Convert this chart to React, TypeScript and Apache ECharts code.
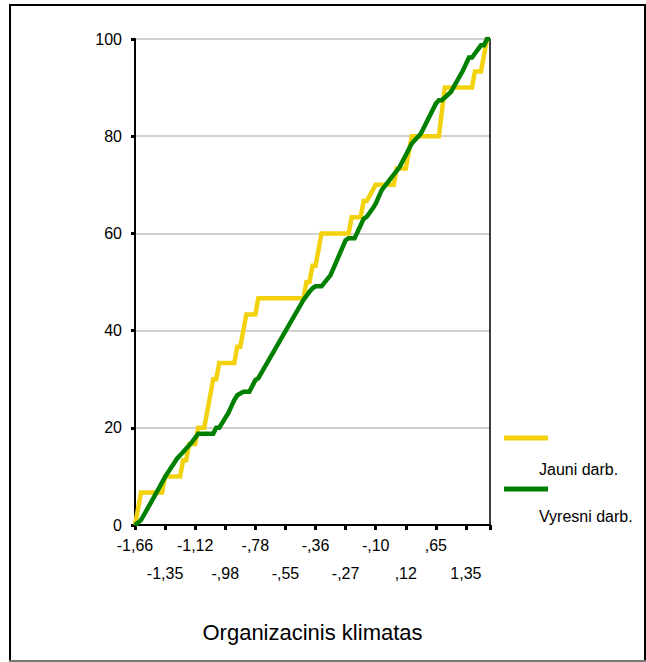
import React, { useEffect, useRef } from 'react';
import * as echarts from 'echarts';

// Tick labels shown on the category axis (every 10th category)
const tickLabels = ['-1,66', '-1,35', '-1,12', '-,98', '-,78', '-,55', '-,36', '-,27', '-,10', ',12', ',65', '1,35'];
const categoryCount = 119;
const categories: string[] = Array.from({ length: categoryCount }, (_, i) =>
  i % 10 === 0 && tickLabels[i / 10] !== undefined ? tickLabels[i / 10] : ''
);

const seriesNames = ['Jauni darb.', 'Vyresni darb.'];
const seriesColors = ['#f2d20c', '#008000'];

// Cumulative percent: [category index, value]
const jauniData: [number, number][] = [
  [0, 0], [2, 6.67], [9, 6.67], [10, 10], [15, 10], [16, 13.33], [17, 13.33], [18, 16.67],
  [20, 16.67], [21, 20], [23, 20], [26, 30], [27, 30], [28, 33.33], [33, 33.33], [34, 36.67],
  [35, 36.67], [37, 43.33], [40, 43.33], [41, 46.67], [56, 46.67], [57, 50], [58, 50],
  [59, 53.33], [60, 53.33], [62, 60], [71, 60], [72, 63.33], [75, 63.33], [76, 66.67],
  [77, 66.67], [80, 70], [86, 70], [87, 73.33], [90, 73.33], [92, 80], [101, 80], [103, 90],
  [112, 90], [113, 93.33], [115, 93.33], [117, 100], [118, 100],
];

const vyresniData: [number, number][] = [
  [0, 0], [2, 1], [7, 6.5], [10, 9.9], [14, 13.7], [16, 15], [19, 17.1], [21, 18.8], [26, 18.8],
  [27, 20], [28, 20], [31, 23], [33, 25.7], [34, 26.7], [36, 27.4], [38, 27.4], [40, 29.8],
  [41, 30.2], [56, 46.3], [58, 48], [59, 48.7], [60, 49.1], [62, 49.1], [65, 51.4], [70, 58.6],
  [71, 59], [73, 59], [76, 63], [77, 63.4], [79, 65.1], [80, 66.1], [82, 68.9], [88, 73.7],
  [92, 78.5], [95, 80.5], [100, 86.7], [101, 87.4], [102, 87.4], [105, 89.1], [109, 93.5],
  [111, 96.2], [112, 96.2], [115, 98.7], [116, 98.7], [117, 100], [118, 100],
];

const FONT = '"Liberation Sans", Arial, sans-serif';

const rowLabel = (row: number) => (v: string) => {
  const k = tickLabels.indexOf(v);
  return k >= 0 && k % 2 === row ? v : '';
};

export default function App() {
  const ref = useRef<HTMLDivElement>(null);

  useEffect(() => {
    if (!ref.current) return;
    const chart = echarts.init(ref.current, undefined, { renderer: 'svg' });
    const option: any = {
      animation: false,
      backgroundColor: '#fff',
      textStyle: { fontFamily: FONT },
      grid: { left: 135, right: 156, top: 39, bottom: 137, containLabel: false },
      xAxis: [
        {
          type: 'category',
          data: categories,
          boundaryGap: false,
          position: 'bottom',
          name: 'Organizacinis klimatas',
          nameLocation: 'middle',
          nameGap: 96,
          nameTextStyle: { fontSize: 22, color: '#000', fontFamily: FONT },
          axisLine: { show: true, lineStyle: { color: '#000', width: 2 } },
          axisTick: { show: true, interval: 9, length: 5, lineStyle: { color: '#000', width: 3 } },
          axisLabel: {
            interval: 9,
            showMinLabel: true,
            showMaxLabel: true,
            hideOverlap: false,
            margin: 6,
            fontSize: 16,
            color: '#000',
            fontFamily: FONT,
            lineHeight: 28,
            formatter: rowLabel(0),
          },
          splitLine: { show: false },
        },
        {
          type: 'category',
          data: categories,
          boundaryGap: false,
          position: 'bottom',
          offset: 0,
          axisLine: { show: false },
          axisTick: { show: false },
          axisLabel: {
            interval: 9,
            showMinLabel: true,
            showMaxLabel: true,
            hideOverlap: false,
            margin: 34,
            fontSize: 16,
            color: '#000',
            fontFamily: FONT,
            lineHeight: 28,
            formatter: rowLabel(1),
          },
          splitLine: { show: false },
        },
      ],
      yAxis: [
        {
          type: 'value',
          min: 0,
          max: 100,
          interval: 20,
          axisLine: { show: true, lineStyle: { color: '#000', width: 2 } },
          axisTick: { show: true, length: 4, lineStyle: { color: '#000', width: 3 } },
          axisLabel: { fontSize: 16, color: '#000', margin: 13, fontFamily: FONT },
          splitLine: { show: true, lineStyle: { color: '#c0c0c0', width: 1.5 } },
        },
        {
          type: 'value',
          position: 'right',
          min: 0,
          max: 100,
          interval: 20,
          axisLine: { show: true, lineStyle: { color: '#000', width: 1.5 } },
          axisTick: { show: false },
          axisLabel: { show: false },
          splitLine: { show: false },
        },
      ],
      series: [
        {
          name: seriesNames[0],
          type: 'line',
          xAxisIndex: 0,
          yAxisIndex: 0,
          data: jauniData,
          showSymbol: false,
          symbol: 'none',
          lineStyle: { color: seriesColors[0], width: 4.5, join: 'miter' },
          itemStyle: { color: seriesColors[0] },
        },
        {
          name: seriesNames[1],
          type: 'line',
          xAxisIndex: 0,
          yAxisIndex: 0,
          data: vyresniData,
          showSymbol: false,
          symbol: 'none',
          lineStyle: { color: seriesColors[1], width: 4.5, join: 'miter' },
          itemStyle: { color: seriesColors[1] },
        },
      ],
      graphic: [
        { type: 'line', shape: { x1: 10, y1: 5, x2: 10, y2: 661 }, style: { stroke: '#000', lineWidth: 2 } },
        { type: 'line', shape: { x1: 9, y1: 5, x2: 646, y2: 5 }, style: { stroke: '#000', lineWidth: 2 } },
        { type: 'line', shape: { x1: 645, y1: 5, x2: 645, y2: 661 }, style: { stroke: '#000', lineWidth: 2 } },
        { type: 'line', shape: { x1: 9, y1: 661, x2: 646, y2: 661 }, style: { stroke: '#777', lineWidth: 2 } },
        { type: 'line', shape: { x1: 504, y1: 438, x2: 548, y2: 438 }, style: { stroke: seriesColors[0], lineWidth: 5 } },
        {
          type: 'text', x: 539, y: 469,
          style: { text: seriesNames[0], fontSize: 16, fontFamily: FONT, fill: '#000', align: 'left', verticalAlign: 'middle' },
        },
        { type: 'line', shape: { x1: 504, y1: 489, x2: 548, y2: 489 }, style: { stroke: seriesColors[1], lineWidth: 5 } },
        {
          type: 'text', x: 539, y: 516,
          style: { text: seriesNames[1], fontSize: 16, fontFamily: FONT, fill: '#000', align: 'left', verticalAlign: 'middle' },
        },
      ],
    };
    chart.setOption(option);
    return () => chart.dispose();
  }, []);

  return (
    <div
      ref={ref}
      style={{ position: 'absolute', left: 0, top: 0, width: 646, height: 662 }}
    />
  );
}
